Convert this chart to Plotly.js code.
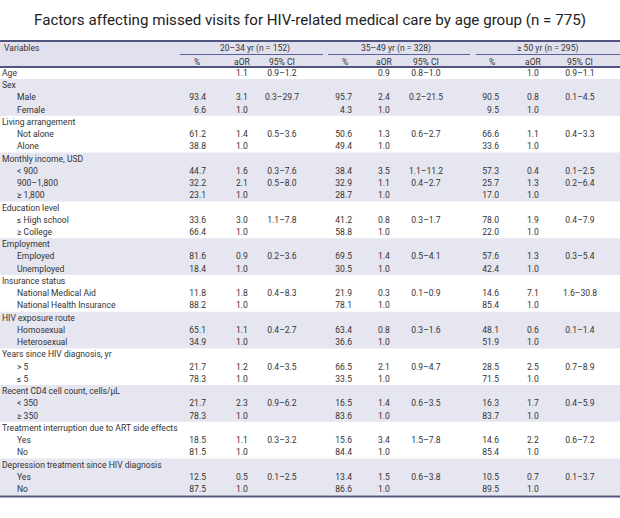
<!DOCTYPE html>
<html><head><meta charset="utf-8">
<script src="https://cdn.plot.ly/plotly-3.0.1.min.js"></script>
<style>html,body{margin:0;padding:0;background:#fff}</style>
</head><body>
<div id="chart" style="width:620px;height:518px"></div>
<script>
// ---------------- DATA ----------------
const chartTitle = "Factors affecting missed visits for HIV-related medical care by age group (n = 775)";
const variablesHeader = "Variables";
const ageGroups = ["20–34 yr (n = 152)", "35–49 yr (n = 328)", "≥ 50 yr (n = 295)"];
const subHeaders = ["%", "aOR", "95% CI"];

const variables = ["Age", "Sex", "Living arrangement", "Monthly income, USD", "Education level",
  "Employment", "Insurance status", "HIV exposure route", "Years since HIV diagnosis, yr",
  "Recent CD4 cell count, cells/μL", "Treatment interruption due to ART side effects",
  "Depression treatment since HIV diagnosis"];
const levels = [[], ["Male", "Female"], ["Not alone", "Alone"], ["< 900", "900–1,800", "≥ 1,800"],
  ["≤ High school", "≥ College"], ["Employed", "Unemployed"],
  ["National Medical Aid", "National Health Insurance"], ["Homosexual", "Heterosexual"],
  ["> 5", "≤ 5"], ["< 350", "≥ 350"], ["Yes", "No"], ["Yes", "No"]];

// one entry per table row (variable rows first, then their levels)
const pct_20_34 = [null, null,93.4,6.6, null,61.2,38.8, null,44.7,32.2,23.1, null,33.6,66.4, null,81.6,18.4, null,11.8,88.2, null,65.1,34.9, null,21.7,78.3, null,21.7,78.3, null,18.5,81.5, null,12.5,87.5];
const aor_20_34 = [1.1, null,3.1,1.0, null,1.4,1.0, null,1.6,2.1,1.0, null,3.0,1.0, null,0.9,1.0, null,1.8,1.0, null,1.1,1.0, null,1.2,1.0, null,2.3,1.0, null,1.1,1.0, null,0.5,1.0];
const ci_20_34 = ["0.9–1.2","","0.3–29.7","","","0.5–3.6","","","0.3–7.6","0.5–8.0","","","1.1–7.8","","","0.2–3.6","","","0.4–8.3","","","0.4–2.7","","","0.4–3.5","","","0.9–6.2","","","0.3–3.2","","","0.1–2.5",""];

const pct_35_49 = [null, null,95.7,4.3, null,50.6,49.4, null,38.4,32.9,28.7, null,41.2,58.8, null,69.5,30.5, null,21.9,78.1, null,63.4,36.6, null,66.5,33.5, null,16.5,83.6, null,15.6,84.4, null,13.4,86.6];
const aor_35_49 = [0.9, null,2.4,1.0, null,1.3,1.0, null,3.5,1.1,1.0, null,0.8,1.0, null,1.4,1.0, null,0.3,1.0, null,0.8,1.0, null,2.1,1.0, null,1.4,1.0, null,3.4,1.0, null,1.5,1.0];
const ci_35_49 = ["0.8–1.0","","0.2–21.5","","","0.6–2.7","","","1.1–11.2","0.4–2.7","","","0.3–1.7","","","0.5–4.1","","","0.1–0.9","","","0.3–1.6","","","0.9–4.7","","","0.6–3.5","","","1.5–7.8","","","0.6–3.8",""];

const pct_50 = [null, null,90.5,9.5, null,66.6,33.6, null,57.3,25.7,17.0, null,78.0,22.0, null,57.6,42.4, null,14.6,85.4, null,48.1,51.9, null,28.5,71.5, null,16.3,83.7, null,14.6,85.4, null,10.5,89.5];
const aor_50 = [1.0, null,0.8,1.0, null,1.1,1.0, null,0.4,1.3,1.0, null,1.9,1.0, null,1.3,1.0, null,7.1,1.0, null,0.6,1.0, null,2.5,1.0, null,1.7,1.0, null,2.2,1.0, null,0.7,1.0];
const ci_50 = ["0.9–1.1","","0.1–4.5","","","0.4–3.3","","","0.1–2.5","0.2–6.4","","","0.4–7.9","","","0.3–5.4","","","1.6–30.8","","","0.1–1.4","","","0.7–8.9","","","0.4–5.9","","","0.6–7.2","","","0.1–3.7",""];

// ---------------- LAYOUT CONSTANTS ----------------
const W = 620, H = 518;
const firstRowPx = 73, rowPitch = 12.24;
const v = px => (px - firstRowPx) / rowPitch;   // pixel -> row coordinate
const textShift = 0.06;                         // nudge text to the optical middle of its row
const textColor = "#333333";
const navy = "#50557f";
const shade = "#e6e6f1";
const headShade = "#e1e1ee";

// fonts: fit a narrow sans to the measured widths
const bodyFamily = '"Liberation Sans Narrow", "Roboto", "Liberation Sans", sans-serif';
const cv = document.createElement("canvas").getContext("2d");
function fitSize(txt, fam, target) { cv.font = "100px " + fam; return 100 * target / cv.measureText(txt).width; }
let bodySize = fitSize("Treatment interruption due to ART side effects", bodyFamily, 176);
bodySize = Math.max(8, Math.min(10.5, bodySize));
let titleSize = fitSize(chartTitle, bodyFamily, 552);
titleSize = Math.max(12, Math.min(17, titleSize));

// column positions (px)
const groupCols = [
  {pctRight: 206, aor: 242, ci: 282, head: 255, pctHead: 197, line: [180, 323]},
  {pctRight: 352, aor: 384, ci: 426, head: 396, pctHead: 345, line: [328, 470]},
  {pctRight: 499, aor: 533, ci: 580, head: 547, pctHead: 492, line: [476, 620]}
];
const labelX0 = 2, labelX1 = 17;

// ---------------- BUILD ROWS ----------------
const rows = [];   // {label, level, group}
variables.forEach((vname, g) => {
  rows.push({label: vname, level: 0, group: g});
  levels[g].forEach(l => rows.push({label: l, level: 1, group: g}));
});

const groupData = [
  [pct_20_34, aor_20_34, ci_20_34],
  [pct_35_49, aor_35_49, ci_35_49],
  [pct_50, aor_50, ci_50]
];

const font = {family: bodyFamily, size: bodySize, color: textColor};
function textTrace(xs, ys, texts, pos) {
  return {type: "scatter", mode: "text", x: xs, y: ys.map(y => y + textShift), text: texts, textposition: pos,
    textfont: font, hoverinfo: "skip", showlegend: false, cliponaxis: false};
}

const traces = [];
[0, 1].forEach(lv => {
  const sel = rows.map((r, i) => ({r, i})).filter(o => o.r.level === lv);
  traces.push(textTrace(sel.map(() => lv ? labelX1 : labelX0), sel.map(o => o.i), sel.map(o => o.r.label), "middle right"));
});
groupData.forEach((gd, k) => {
  const c = groupCols[k];
  const [pct, aor, ci] = gd;
  const ip = pct.map((val, i) => i).filter(i => pct[i] !== null);
  traces.push(textTrace(ip.map(() => c.pctRight), ip, ip.map(i => pct[i].toFixed(1)), "middle left"));
  const ia = aor.map((val, i) => i).filter(i => aor[i] !== null);
  traces.push(textTrace(ia.map(() => c.aor), ia, ia.map(i => aor[i].toFixed(1)), "middle center"));
  const ic = ci.map((val, i) => i).filter(i => ci[i] !== "");
  traces.push(textTrace(ic.map(() => c.ci), ic, ic.map(i => ci[i]), "middle center"));
});

// ---------------- SHAPES & HEADER ----------------
const shapes = [];
shapes.push({type: "rect", xref: "x", yref: "y", x0: 0, x1: W, y0: v(41), y1: v(67), fillcolor: headShade, line: {width: 0}, layer: "below"});
let start = 0;
variables.forEach((vname, g) => {
  const n = 1 + levels[g].length;
  if (g % 2 === 1) {
    shapes.push({type: "rect", xref: "x", yref: "y", x0: 0, x1: W, y0: start - 0.5, y1: start + n - 0.5, fillcolor: shade, line: {width: 0}, layer: "below"});
  }
  start += n;
});
const hline = (y, w, col, x0 = 0, x1 = W) => ({type: "line", xref: "x", yref: "y", x0, x1, y0: y, y1: y, line: {color: col, width: w}});
shapes.push(hline(v(41), 2, navy));
shapes.push(hline(v(67), 2, navy));
shapes.push(hline(start - 0.5 + 0.1, 2.2, navy));
groupCols.forEach(c => shapes.push(hline(v(54.5), 1.2, "#5a60a0", c.line[0], c.line[1])));

const annotations = [];
const ann = (x, px, text, anchor) => ({xref: "x", yref: "y", x, y: v(px), text, showarrow: false, xanchor: anchor, yanchor: "middle", font});
annotations.push(ann(labelX0, 48, variablesHeader, "left"));
ageGroups.forEach((gname, k) => {
  const c = groupCols[k];
  annotations.push(ann(c.head, 48, gname, "center"));
  annotations.push(ann(c.pctHead, 61.5, subHeaders[0], "center"));
  annotations.push(ann(c.aor, 61.5, subHeaders[1], "center"));
  annotations.push(ann(c.ci, 61.5, subHeaders[2], "center"));
});

const layout = {
  width: W, height: H,
  margin: {l: 0, r: 0, t: 0, b: 0},
  paper_bgcolor: "#fff", plot_bgcolor: "#fff",
  title: {text: chartTitle, x: 0.5, xanchor: "center", y: 1 - 20 / H, yanchor: "middle",
    font: {family: bodyFamily, size: titleSize, color: "#222"}},
  xaxis: {range: [0, W], visible: false, fixedrange: true},
  yaxis: {range: [v(H), v(0)], visible: false, fixedrange: true},
  shapes, annotations, showlegend: false
};
Plotly.newPlot("chart", traces, layout, {staticPlot: true, displayModeBar: false});
</script>
</body></html>
